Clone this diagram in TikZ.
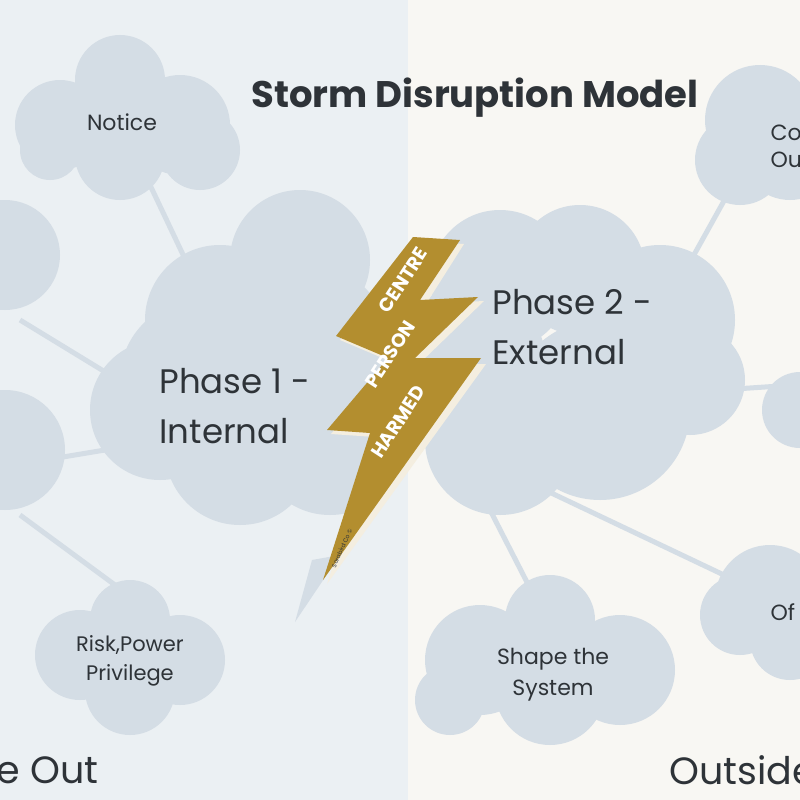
\documentclass[tikz,border=0pt]{standalone}
\usepackage{fontspec}
\setmainfont{Poppins}
\begin{document}
\begin{tikzpicture}[x=1pt,y=-1pt,
  cl/.style={fill=cloud,draw=none},
  ln/.style={draw=cloud,line width=5pt},
  lab/.style={text=txt,font=\fontsize{22}{27}\selectfont,align=center},
  big/.style={text=txt,font=\fontsize{34}{50}\selectfont,align=left,anchor=west},
  bt/.style={text=white,font=\bfseries\fontsize{19}{20}\selectfont,inner sep=0pt}]
\definecolor{cloud}{HTML}{D4DDE5}
\definecolor{txt}{HTML}{2E3338}
\definecolor{gold}{HTML}{B38E2F}
\definecolor{bgl}{HTML}{EBF0F3}
\definecolor{bgr}{HTML}{F8F7F3}
\useasboundingbox (0,0) rectangle (800,800);
\fill[bgl] (0,0) rectangle (408,800);
\fill[bgr] (408,0) rectangle (800,800);
% connectors
\coordinate (n1) at (150,185); \coordinate (p1a) at (195,280);
\draw[ln] (n1) -- (p1a);
\coordinate (l1) at (20,320); \coordinate (p1b) at (115,378); \draw[ln] (l1) -- (p1b);
\coordinate (l2) at (45,460); \coordinate (p1c) at (105,450); \draw[ln] (l2) -- (p1c);
\coordinate (l3) at (20,515); \coordinate (r1) at (115,585); \draw[ln] (l3) -- (r1);
\coordinate (s1) at (490,510); \coordinate (s2) at (532,592); \draw[ln] (s1) -- (s2);
\coordinate (o1) at (545,490); \coordinate (o2) at (745,585); \draw[ln] (o1) -- (o2);
\coordinate (q1) at (720,390); \coordinate (q2) at (795,385); \draw[ln] (q1) -- (q2);
\coordinate (t1) at (680,280); \coordinate (t2) at (730,190); \draw[ln] (t1) -- (t2);
% clouds
\fill[cl] (120,80) circle (45) (60,125) circle (45) (180,125) circle (50) (120,155) circle (45) (200,150) circle (40) (50,150) circle (30);
\fill[cl] (5,255) circle (55);
\fill[cl] (5,450) circle (60);
\fill[cl] (300,260) circle (70) (220,320) circle (75) (160,410) circle (70) (240,450) circle (75) (330,440) circle (75) (300,350) circle (90) (200,380) circle (80);
\fill[cl] (500,280) circle (70) (580,270) circle (65) (660,320) circle (75) (690,380) circle (55) (600,410) circle (90) (500,440) circle (75) (470,360) circle (75);
\fill[cl] (760,120) circle (55) (740,160) circle (45) (790,150) circle (50);
\fill[cl] (800,410) circle (38);
\fill[cl] (770,600) circle (55) (740,615) circle (40) (790,640) circle (40);
\fill[cl] (550,620) circle (45) (480,660) circle (55) (620,670) circle (55) (550,690) circle (55) (450,700) circle (35);
\fill[cl] (130,620) circle (40) (80,655) circle (45) (180,660) circle (45) (130,690) circle (45);
% bolt
\fill[cloud] (312,560) -- (340,555) -- (295,622) -- cycle;
\fill[white!85!gold] (417,241) -- (464,244) -- (426,304) -- (484,301) -- (419,364) -- (486,364) -- (327,584) -- (375,437) -- (331,434) -- (392,362) -- (340,340) -- cycle;
\fill[gold] (413,237) -- (460,240) -- (420,300) -- (478,297) -- (415,358) -- (481,358) -- (323,580) -- (370,433) -- (327,430) -- (388,358) -- (336,336) -- cycle;
\node[bt] (c1) at (403,280) {\rotatebox{57}{CENTRE}};
\node[bt] (c2) at (390,354) {\rotatebox{57}{PERSON}};
\node[bt] (c3) at (398,422) {\rotatebox{57}{HARMED}};
\node[text=txt,font=\fontsize{6}{7}\selectfont,inner sep=0pt] (c4) at (342,548) {\rotatebox{66}{Sorabird Co ©}};
% texts
\node[text=txt,font=\bfseries\fontsize{37}{40}\selectfont] (title) at (475,98) {Storm Disruption Model};
\node[lab] (notice) at (122,122) {Notice};
\node[big] (p1) at (156,406) {Phase 1 -\\Internal};
\node[big] (p2) at (489,327) {Phase 2 -\\External};
\node[lab,font=\fontsize{21}{29}\selectfont] (risk) at (130,661) {Risk,Power\\Privilege};
\node[lab,font=\fontsize{22}{31}\selectfont] (shape) at (553,675) {Shape the\\System};
\node[lab,align=left,anchor=west] (co) at (767,146) {Co\\Ou};
\node[lab,anchor=west] (of) at (767,612) {Of};
\node[text=txt,font=\fontsize{38}{40}\selectfont,anchor=east] (out) at (102,770) {e Out};
\node[text=txt,font=\fontsize{38}{40}\selectfont,anchor=west] (outs) at (666,770) {Outside};
\end{tikzpicture}
\end{document}
